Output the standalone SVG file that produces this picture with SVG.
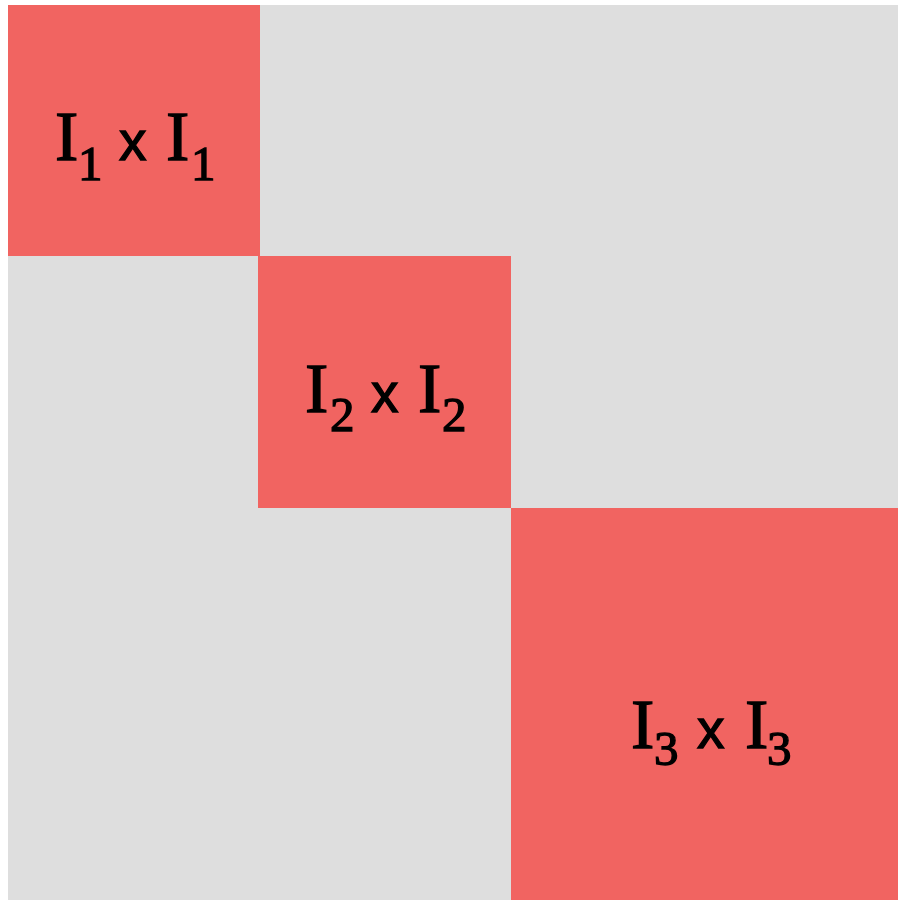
<svg xmlns="http://www.w3.org/2000/svg" width="898" height="900" viewBox="0 0 898 900">
<style>
.bg{fill:#dedede}
.blk{fill:#f16461}
text{fill:#000;stroke:#000;stroke-width:1.3px}
.I{font-family:"Liberation Serif",serif;font-size:70px}
.s{font-family:"Liberation Serif",serif;font-size:49px}
.x{font-family:"Liberation Sans",sans-serif;font-size:55px}
</style>
<rect width="898" height="900" fill="#fff"/>
<rect class="bg" x="8" y="5" width="890" height="895"/>
<g id="block1">
<rect class="blk" x="8" y="5" width="252" height="251"/>
<text class="I" x="55" y="160">I</text>
<text class="s" x="78" y="180">1</text>
<text class="x" x="119" y="160">x</text>
<text class="I" x="166" y="160">I</text>
<text class="s" x="191" y="180">1</text>
</g>
<g id="block2">
<rect class="blk" x="258" y="256" width="253" height="252"/>
<text class="I" x="305" y="412">I</text>
<text class="s" x="330" y="431">2</text>
<text class="x" x="371" y="412">x</text>
<text class="I" x="418" y="412">I</text>
<text class="s" x="442" y="431">2</text>
</g>
<g id="block3">
<rect class="blk" x="511" y="508" width="387" height="392"/>
<text class="I" x="631" y="748">I</text>
<text class="s" x="654" y="765">3</text>
<text class="x" x="697" y="748">x</text>
<text class="I" x="745" y="748">I</text>
<text class="s" x="767" y="765">3</text>
</g>
</svg>
